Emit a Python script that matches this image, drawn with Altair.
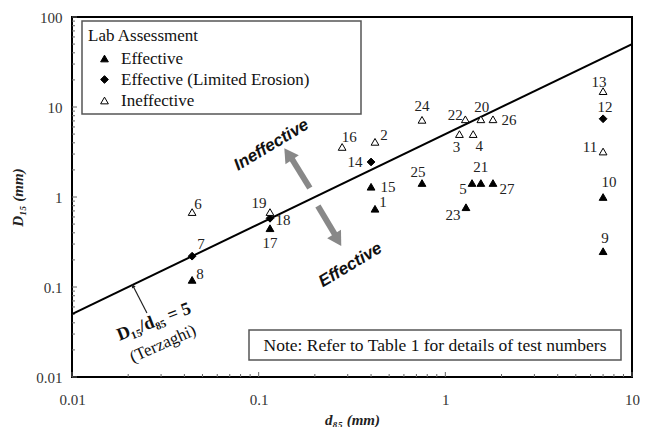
import altair as alt
import pandas as pd

# ---------------- data ----------------
tests = list(range(1, 28))
d85 = [0.42, 0.42, 1.19, 1.41, 1.39, 0.044, 0.044, 0.044, 7.0, 7.0,
       7.0, 7.0, 7.0, 0.40, 0.40, 0.28, 0.115, 0.115, 0.115, 1.55,
       1.55, 1.28, 1.29, 0.75, 0.75, 1.80, 1.80]
D15 = [0.74, 4.1, 5.0, 5.0, 1.43, 0.68, 0.22, 0.12, 0.25, 1.0,
       3.2, 7.4, 15.0, 2.45, 1.3, 3.6, 0.45, 0.58, 0.68, 7.3,
       1.43, 7.3, 0.77, 7.2, 1.43, 7.3, 1.43]
codes = ["E", "I", "I", "I", "E", "I", "L", "E", "E", "E",
         "I", "L", "I", "L", "E", "I", "E", "L", "I", "I",
         "E", "I", "E", "I", "E", "I", "E"]
categories = ["Effective", "Effective (Limited Erosion)", "Ineffective"]
code_name = {"E": categories[0], "L": categories[1], "I": categories[2]}

# Terzaghi criterion D15/d85 = 5
ratio = 5
line_x = [0.01, 10]

# tick values
x_major = [0.01, 0.1, 1, 10]
y_major = [0.01, 0.1, 1, 10, 100]
mult = [1, 2, 3, 4, 5, 6, 7, 8, 9]

# annotation anchors (data units)
arrow_up = {"x": 0.188, "y": 1.26, "x2": 0.1496, "y2": 2.71, "hx": 0.144, "hy": 3.0}
arrow_dn = {"x": 0.2077, "y": 0.794, "x2": 0.259, "y2": 0.369, "hx": 0.265, "hy": 0.333}
txt_ineff = (0.117, 3.78)
txt_eff = (0.31, 0.175)
terz_ptr = {"x": 0.0252, "y": 0.0514, "x2": 0.0212, "y2": 0.103}
terz_txt1 = (0.0275, 0.0408)
terz_txt2 = (0.0307, 0.0233)

# label offsets (style, px)
label_dx = [8, 9, -3, 6, -9, 6, 9, 8, 2, 6, -13, 2, -4, -16, 17, 7, 0, 13, -11, 1,
            0, -10, -13, 0, -4, 16, 14]
label_dy = [-7, -7, 13, 12, 6, -8, -12, -6, -13, -15, -5, -12, -9, 0, 0, -10, 15, 2, -9, -12,
            -16, -4, 8, -14, -11, 1, 6]

# ---------------- frames ----------------
df = pd.DataFrame({"test": [str(t) for t in tests], "x": d85, "y": D15,
                   "Lab Assessment": [code_name[c] for c in codes]})
line_df = pd.DataFrame({"x": line_x, "y": [ratio * v for v in line_x]})
xt = sorted(set([round(m * 10 ** k, 6) for k in range(-2, 1) for m in mult] + [10]))
yt = sorted(set([round(m * 10 ** k, 6) for k in range(-2, 2) for m in mult] + [100]))
xt_maj = pd.DataFrame({"x": [v for v in xt if v in x_major]})
xt_min = pd.DataFrame({"x": [v for v in xt if v not in x_major]})
yt_maj = pd.DataFrame({"y": [v for v in yt if v in y_major]})
yt_min = pd.DataFrame({"y": [v for v in yt if v not in y_major]})

W, H = 560, 360
SERIF = "Liberation Serif"
xs = alt.Scale(type="log", domain=[0.01, 10], nice=False)
ys = alt.Scale(type="log", domain=[0.01, 100], nice=False)

x_axis = alt.Axis(values=xt, format="~g",
                  labelExpr="indexof([0.01,0.1,1,10], datum.value) >= 0 ? datum.label : ''",
                  ticks=False, tickSize=0, domain=False, grid=False, labelOverlap=False,
                  labelFlush=False, labelFont=SERIF, labelFontSize=15, labelColor="#333",
                  labelPadding=15, title="d₈₅ (mm)", titleFont=SERIF, titleFontSize=15,
                  titleFontWeight="bold", titleFontStyle="italic", titleColor="#222",
                  titlePadding=5)
y_axis = alt.Axis(values=yt, format="~g",
                  labelExpr="indexof([0.01,0.1,1,10,100], datum.value) >= 0 ? datum.label : ''",
                  ticks=False, tickSize=0, domain=False, grid=False, labelOverlap=False,
                  labelFlush=False, labelFont=SERIF, labelFontSize=15, labelColor="#333",
                  labelPadding=10, title="D₁₅ (mm)", titleFont=SERIF, titleFontSize=15,
                  titleFontWeight="bold", titleFontStyle="italic", titleColor="#222",
                  titlePadding=10)


def X(f="x"):
    return alt.X(f"{f}:Q", scale=xs, axis=x_axis)


def Y(f="y"):
    return alt.Y(f"{f}:Q", scale=ys, axis=y_axis)


one = pd.DataFrame({"a": [0]})

# minor/major ticks (inside)
tick_layers = [
    alt.Chart(xt_maj).mark_rule(color="#666", strokeWidth=1).encode(
        x=X(), y=alt.value(H), y2=alt.value(H - 5)),
    alt.Chart(xt_min).mark_rule(color="#666", strokeWidth=1).encode(
        x=X(), y=alt.value(H), y2=alt.value(H - 3)),
    alt.Chart(yt_maj).mark_rule(color="#666", strokeWidth=1).encode(
        y=Y(), x=alt.value(0), x2=alt.value(5)),
    alt.Chart(yt_min).mark_rule(color="#666", strokeWidth=1).encode(
        y=Y(), x=alt.value(0), x2=alt.value(3)),
]

crit = alt.Chart(line_df).mark_line(color="black", strokeWidth=2, clip=True).encode(x=X(), y=Y())

# gray arrows
arr_df = pd.DataFrame([arrow_up, arrow_dn])
arr_df["ang"] = [326, 149]
shafts = alt.Chart(arr_df).mark_rule(color="#888", strokeWidth=6).encode(
    x=X(), y=Y(), x2="x2:Q", y2="y2:Q")
heads = alt.Chart(arr_df).mark_point(shape="triangle-up", filled=True, color="#888",
                                     size=260, opacity=1).encode(
    x=X("hx"), y=Y("hy"), angle=alt.Angle("ang:Q", scale=None))

t_df = pd.DataFrame({"x": [txt_ineff[0], txt_eff[0]], "y": [txt_ineff[1], txt_eff[1]],
                     "t": ["Ineffective", "Effective"]})
region_txt = alt.Chart(t_df).mark_text(font="Liberation Sans", fontSize=17, fontWeight="bold",
                                       fontStyle="italic", angle=329, color="#111").encode(
    x=X(), y=Y(), text="t:N")

# Terzaghi pointer + text
tp_df = pd.DataFrame([terz_ptr])
tp_df["ang"] = [331]
tptr = alt.Chart(tp_df).mark_rule(color="#222", strokeWidth=1.2).encode(
    x=X(), y=Y(), x2="x2:Q", y2="y2:Q")
thead = alt.Chart(tp_df).mark_point(shape="triangle-up", filled=True, color="#222",
                                    size=18, opacity=1).encode(
    x=X("x2"), y=Y("y2"), angle=alt.Angle("ang:Q", scale=None))
tt1 = alt.Chart(pd.DataFrame({"x": [terz_txt1[0]], "y": [terz_txt1[1]], "t": ["D₁₅/d₈₅ = 5"]})).mark_text(
    font=SERIF, fontSize=18, fontWeight="bold", angle=339, color="#111").encode(x=X(), y=Y(), text="t:N")
tt2 = alt.Chart(pd.DataFrame({"x": [terz_txt2[0]], "y": [terz_txt2[1]], "t": ["(Terzaghi)"]})).mark_text(
    font=SERIF, fontSize=17, angle=336, color="#111").encode(x=X(), y=Y(), text="t:N")

# legend box & note box
legend_box = alt.Chart(one).mark_rect(fill="white", stroke="#555", strokeWidth=1.5).encode(
    x=alt.value(10), x2=alt.value(289), y=alt.value(4), y2=alt.value(97))
note_box = alt.Chart(one).mark_rect(fill="white", stroke="#555", strokeWidth=1.5).encode(
    x=alt.value(177), x2=alt.value(549), y=alt.value(313), y2=alt.value(343))
note_txt = alt.Chart(pd.DataFrame({"t": ["Note: Refer to Table 1 for details of test numbers"]})).mark_text(
    font=SERIF, fontSize=17.5, color="#111").encode(x=alt.value(363), y=alt.value(329), text="t:N")

points = alt.Chart(df).mark_point(filled=True, strokeWidth=1, size=60, opacity=1).encode(
    x=X(), y=Y(),
    shape=alt.Shape("Lab Assessment:N", scale=alt.Scale(domain=categories,
                    range=["triangle-up", "diamond", "triangle-up"])),
    fill=alt.Fill("Lab Assessment:N", scale=alt.Scale(domain=categories,
                  range=["black", "black", "white"])),
    stroke=alt.Stroke("Lab Assessment:N", scale=alt.Scale(domain=categories,
                      range=["black", "black", "black"])))

labels = []
for i, t in enumerate(tests):
    labels.append(
        alt.Chart(df.iloc[[i]]).mark_text(font=SERIF, fontSize=15, color="#222",
                                          dx=label_dx[i], dy=label_dy[i]).encode(
            x=X(), y=Y(), text="test:N"))

chart = alt.layer(*tick_layers, crit, shafts, heads, region_txt, tptr, thead, tt1, tt2,
                  legend_box, note_box, note_txt, points, *labels).properties(
    width=W, height=H, autosize=alt.AutoSizeParams(type="none"),
    padding={"left": 64, "top": 9, "right": 8, "bottom": 50}
).configure_view(stroke="black", strokeWidth=2).configure_legend(
    orient="none", legendX=16, legendY=11, titleFont=SERIF, titleFontSize=17,
    titleFontWeight="normal", titleColor="#111", labelFont=SERIF, labelFontSize=17,
    labelColor="#111", labelLimit=0, symbolStrokeWidth=1, symbolSize=60,
    symbolOffset=8, labelOffset=8, rowPadding=3, titlePadding=5, padding=0
)

chart.save("out.html", embed_options={"renderer": "svg", "actions": False})
